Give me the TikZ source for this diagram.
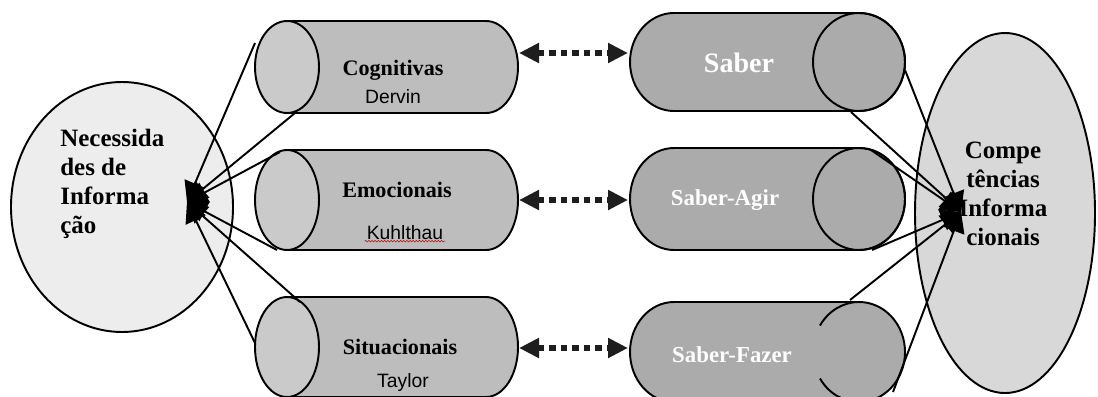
\documentclass[tikz,border=0pt]{standalone}
\usepackage{fontspec}
\setmainfont{Liberation Serif}
\setsansfont{Liberation Sans}
\usetikzlibrary{arrows.meta,decorations.pathmorphing}

\definecolor{needfill}{HTML}{EDEDED}
\definecolor{compfill}{HTML}{D8D8D8}
\definecolor{leftbody}{HTML}{BDBDBD}
\definecolor{leftcap}{HTML}{CACACA}
\definecolor{rightbody}{HTML}{ABABAB}
\definecolor{dotgray}{HTML}{1E1E1E}

\begin{document}
\begin{tikzpicture}[x=0.02cm, y=-0.02cm,
    outline/.style={line width=1.1pt},
    fanline/.style={line width=1.1pt, -{Triangle[length=0.4cm, width=0.44cm]}},
    dotarrow/.style={dotgray, line width=0.13cm, dash pattern=on 0.13cm off 0.1cm,
        {Triangle[length=0.4cm, width=0.38cm]}-{Triangle[length=0.4cm, width=0.38cm]}},
    bigtext/.style={font=\bfseries\fontsize{14.2}{16.4}\selectfont, inner sep=0pt},
    cyltitle/.style={font=\bfseries\fontsize{12.6}{15}\selectfont},
    author/.style={font=\sffamily\fontsize{11}{13}\selectfont, inner sep=1pt},
    sabertext/.style={text=white, font=\bfseries\fontsize{13}{15}\selectfont},
    spell/.style={red!80!black, line width=0.3pt, decorate,
        decoration={snake, amplitude=0.45pt, segment length=1.8pt}}]
    \useasboundingbox (0,0) rectangle (1098,396);

    % Necessidades de Informacao
    \filldraw[fill=needfill, outline] (122,207) ellipse [x radius=111, y radius=125];
    \node[bigtext, anchor=west, align=left] (need) at (60,184) {Necessida\\des de\\Informa\\ção};

    % Competencias Informacionais
    \filldraw[fill=compfill, outline] (1005,213) ellipse [x radius=90, y radius=180];
    \node[bigtext, align=center] (comp) at (1003,194) {Compe\\tências\\Informa\\cionais};

    % left cylinders
    \foreach \cy/\ry in {67/46, 200/50, 347/50} {
        \filldraw[fill=leftbody, outline] (287,\cy-\ry) -- (486,\cy-\ry)
            arc[start angle=-90, end angle=90, x radius=32, y radius=\ry] -- (287,\cy+\ry) -- cycle;
        \filldraw[fill=leftcap, outline] (287,\cy) ellipse [x radius=32, y radius=\ry];
    }
    \node[cyltitle] (cog) at (393,70) {Cognitivas};
    \node[author] (der) at (393,97) {Dervin};
    \node[cyltitle] (emo) at (397,190) {Emocionais};
    \node[author] (kuh) at (405,233) {Kuhlthau};
    \draw[spell] ([yshift=0.6pt]kuh.south west) -- ([yshift=0.6pt]kuh.south east);
    \node[cyltitle] (sit) at (400,347) {Situacionais};
    \node[author] (tay) at (403,382) {Taylor};

    % right cylinders
    \foreach \cy/\ry in {62/49, 199/51, 352/50}
        \filldraw[fill=rightbody, outline] (674,\cy-\ry) -- (859,\cy-\ry)
            arc[start angle=-90, end angle=90, x radius=46, y radius=\ry] -- (674,\cy+\ry)
            arc[start angle=90, end angle=270, x radius=44, y radius=\ry] -- cycle;
    \draw[outline] (859,62) ellipse [x radius=46, y radius=49];
    \draw[outline] (859,199) ellipse [x radius=46, y radius=51];
    \draw[outline] (859,302) arc[start angle=-90, end angle=-148, x radius=46, y radius=50];
    \draw[outline] (859,402) arc[start angle=90, end angle=148, x radius=46, y radius=50];
    \node[sabertext, font=\bfseries\fontsize{16}{18}\selectfont] (sab) at (739,63) {Saber};
    \node[sabertext] (agir) at (725,200) {Saber-Agir};
    \node[sabertext] (fazer) at (732,355) {Saber-Fazer};

    % dotted links
    \coordinate (cog-r) at (519,53);  \coordinate (sab-l) at (628,53);
    \coordinate (emo-r) at (519,200); \coordinate (agir-l) at (628,200);
    \coordinate (sit-r) at (519,348); \coordinate (fazer-l) at (628,348);
    \draw[dotarrow] (cog-r) -- (sab-l);
    \draw[dotarrow] (emo-r) -- (agir-l);
    \draw[dotarrow] (sit-r) -- (fazer-l);

    % fan into the left ellipse
    \coordinate (needtip) at (187,202);
    \coordinate (cog-a) at (255,43);  \coordinate (cog-b) at (295,113);
    \coordinate (emo-a) at (280,152); \coordinate (emo-b) at (277,250);
    \coordinate (sit-a) at (300,302); \coordinate (sit-b) at (255,343);
    \foreach \s in {cog-a,cog-b,emo-a,emo-b,sit-a,sit-b}
        \draw[fanline] (\s) -- (needtip);

    % fan into the right ellipse
    \coordinate (comptip) at (961,212);
    \coordinate (sab-a) at (905,70);   \coordinate (sab-b) at (851,112);
    \coordinate (agir-a) at (871,150); \coordinate (agir-b) at (872,250);
    \coordinate (fazer-a) at (850,300); \coordinate (fazer-b) at (893,392);
    \foreach \s in {sab-a,sab-b,agir-a,agir-b,fazer-a,fazer-b}
        \draw[fanline] (\s) -- (comptip);
\end{tikzpicture}
\end{document}
